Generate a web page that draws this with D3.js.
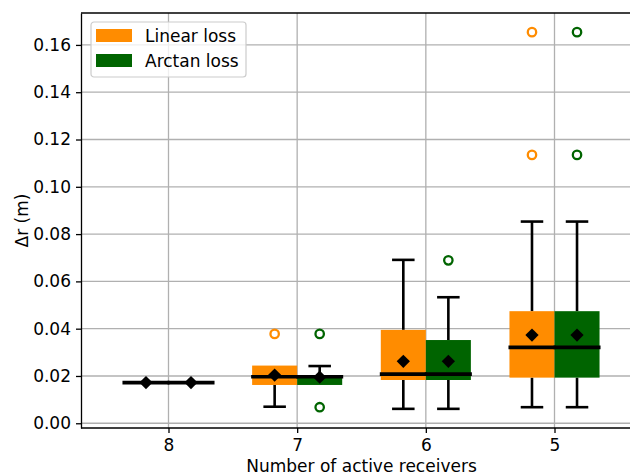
<!DOCTYPE html>
<html>
<head>
<meta charset="utf-8">
<script src="https://cdn.jsdelivr.net/npm/d3@7"></script>
<style>
  body { margin: 0; background: #fff; }
  text { font-family: "DejaVu Sans", sans-serif; }
</style>
</head>
<body>
<script>
// Box plot: position error per number of active receivers, two loss functions

const categories = ["8", "7", "6", "5"];
const seriesNames = ["Linear loss", "Arctan loss"];
const seriesColors = ["#ff8c00", "#006400"];
const yTicks = [0.00, 0.02, 0.04, 0.06, 0.08, 0.10, 0.12, 0.14, 0.16];

// per category: [whiskerLow, q1, median, q3, whiskerHigh]
const linearStats = [
  [0.0172, 0.0172, 0.0172, 0.0172, 0.0172],
  [0.0070, 0.0162, 0.0197, 0.0244, 0.0244],
  [0.0061, 0.0183, 0.0208, 0.0395, 0.0691],
  [0.0068, 0.0193, 0.0321, 0.0474, 0.0853]
];
const linearMeans = [0.0172, 0.0204, 0.0262, 0.0373];
const linearOutliers = [[], [0.0378], [], [0.1135, 0.1654]];

const arctanStats = [
  [0.0172, 0.0172, 0.0172, 0.0172, 0.0172],
  [0.0162, 0.0162, 0.0197, 0.0201, 0.0242],
  [0.0061, 0.0183, 0.0208, 0.0352, 0.0533],
  [0.0068, 0.0193, 0.0321, 0.0474, 0.0853]
];
const arctanMeans = [0.0172, 0.0195, 0.0262, 0.0373];
const arctanOutliers = [[], [0.0068, 0.0378], [0.0689], [0.1135, 0.1654]];

const width = 630, height = 475;
const margin = { left: 81, top: 13, right: -12, bottom: 47 };

const svg = d3.select("body")
  .append("svg")
  .attr("width", width)
  .attr("height", height);

const x = d3.scaleLinear()
  .domain([-0.68, 3.68])
  .range([margin.left, width - margin.right]);

const y = d3.scaleLinear()
  .domain([-0.0020, 0.1735])
  .range([height - margin.bottom, margin.top]);

const boxOffset = 0.175, boxHalf = 0.175, capHalf = 0.0875;

// grid
const grid = svg.append("g");
grid.selectAll(".gy")
  .data(yTicks)
  .enter()
  .append("line")
  .attr("x1", margin.left).attr("x2", width)
  .attr("y1", d => y(d)).attr("y2", d => y(d))
  .style("stroke", "#b0b0b0")
  .style("stroke-width", 1.3);
grid.selectAll(".gx")
  .data(categories)
  .enter()
  .append("line")
  .attr("x1", (d, i) => x(i)).attr("x2", (d, i) => x(i))
  .attr("y1", margin.top).attr("y2", height - margin.bottom)
  .style("stroke", "#b0b0b0")
  .style("stroke-width", 1.3);

// axes
const yAxis = svg.append("g")
  .attr("transform", `translate(${margin.left},0)`)
  .call(d3.axisLeft(y).tickValues(yTicks).tickFormat(d3.format(".2f"))
    .tickSize(5).tickSizeOuter(0).tickPadding(5));
const xAxis = svg.append("g")
  .attr("transform", `translate(0,${height - margin.bottom})`)
  .call(d3.axisBottom(x).tickValues(d3.range(categories.length)).tickFormat(i => categories[i])
    .tickSize(5).tickSizeOuter(0).tickPadding(6));

[yAxis, xAxis].forEach(a => {
  a.selectAll("text").style("font-size", "17px").style("fill", "#000");
  a.selectAll("line").style("stroke", "#000").style("stroke-width", 1.3);
  a.select(".domain").style("stroke", "#000").style("stroke-width", 1.3);
});
xAxis.select(".domain").attr("d", `M${margin.left},0H${width}`);

// top spine
svg.append("line")
  .attr("x1", margin.left).attr("x2", width)
  .attr("y1", margin.top).attr("y2", margin.top)
  .style("stroke", "#000").style("stroke-width", 1.3);

const series = [
  { stats: linearStats, means: linearMeans, outliers: linearOutliers, shift: -boxOffset, color: seriesColors[0] },
  { stats: arctanStats, means: arctanMeans, outliers: arctanOutliers, shift: boxOffset, color: seriesColors[1] }
];

const plot = svg.append("g");

// whiskers + caps (skipped where the whisker ends at the box edge)
series.forEach(s => {
  const g = plot.append("g");
  s.stats.forEach((st, i) => {
    const cx = i + s.shift;
    [[st[0], st[1]], [st[4], st[3]]].forEach(([end, edge]) => {
      if (end === edge) return;
      g.append("line")
        .attr("x1", x(cx)).attr("x2", x(cx))
        .attr("y1", y(end)).attr("y2", y(edge))
        .style("stroke", "#000").style("stroke-width", 2.6);
      g.append("line")
        .attr("x1", x(cx - capHalf)).attr("x2", x(cx + capHalf))
        .attr("y1", y(end)).attr("y2", y(end))
        .style("stroke", "#000").style("stroke-width", 2.6);
    });
  });
});

// box bodies
series.forEach(s => {
  plot.append("g").selectAll("rect")
    .data(s.stats)
    .enter()
    .append("rect")
    .attr("x", (d, i) => x(i + s.shift - boxHalf))
    .attr("width", (d, i) => x(i + s.shift + boxHalf) - x(i + s.shift - boxHalf))
    .attr("y", d => y(d[3]))
    .attr("height", d => y(d[1]) - y(d[3]))
    .style("fill", s.color);
});

// medians
series.forEach(s => {
  plot.append("g").selectAll("line")
    .data(s.stats)
    .enter()
    .append("line")
    .attr("x1", (d, i) => x(i + s.shift - boxHalf) - 1)
    .attr("x2", (d, i) => x(i + s.shift + boxHalf) + 1)
    .attr("y1", d => y(d[2])).attr("y2", d => y(d[2]))
    .style("stroke", "#000").style("stroke-width", 3.6);
});

// outliers
series.forEach(s => {
  const pts = [];
  s.outliers.forEach((arr, i) => arr.forEach(v => pts.push({ i, v })));
  plot.append("g").selectAll("circle")
    .data(pts)
    .enter()
    .append("circle")
    .attr("cx", d => x(d.i + s.shift))
    .attr("cy", d => y(d.v))
    .attr("r", 4.2)
    .style("fill", "none")
    .style("stroke", s.color)
    .style("stroke-width", 2.3);
});

// means
const diamond = d3.symbol().type(d3.symbolSquare).size(88);
series.forEach(s => {
  plot.append("g").selectAll("path")
    .data(s.means)
    .enter()
    .append("path")
    .attr("d", diamond)
    .attr("transform", (d, i) => `translate(${x(i + s.shift)},${y(d)}) rotate(45)`)
    .style("fill", "#000");
});

// axis labels
svg.append("text")
  .attr("x", x(1.5))
  .attr("y", 472)
  .attr("text-anchor", "middle")
  .style("font-size", "17px")
  .text("Number of active receivers");

svg.append("text")
  .attr("transform", `translate(28,${(margin.top + height - margin.bottom) / 2}) rotate(-90)`)
  .attr("text-anchor", "middle")
  .style("font-size", "17px")
  .text("Δr (m)");

// legend
const legend = svg.append("g").attr("transform", "translate(91,22)");
legend.append("rect")
  .attr("width", 155).attr("height", 55)
  .attr("rx", 3)
  .style("fill", "#fff").style("fill-opacity", 0.8)
  .style("stroke", "#cccccc").style("stroke-width", 1.2);
seriesNames.forEach((name, i) => {
  legend.append("rect")
    .attr("x", 5).attr("y", 7 + i * 25)
    .attr("width", 36).attr("height", 13)
    .style("fill", seriesColors[i]);
  legend.append("text")
    .attr("x", 54).attr("y", 20 + i * 25)
    .style("font-size", "17px")
    .text(name);
});
</script>
</body>
</html>
